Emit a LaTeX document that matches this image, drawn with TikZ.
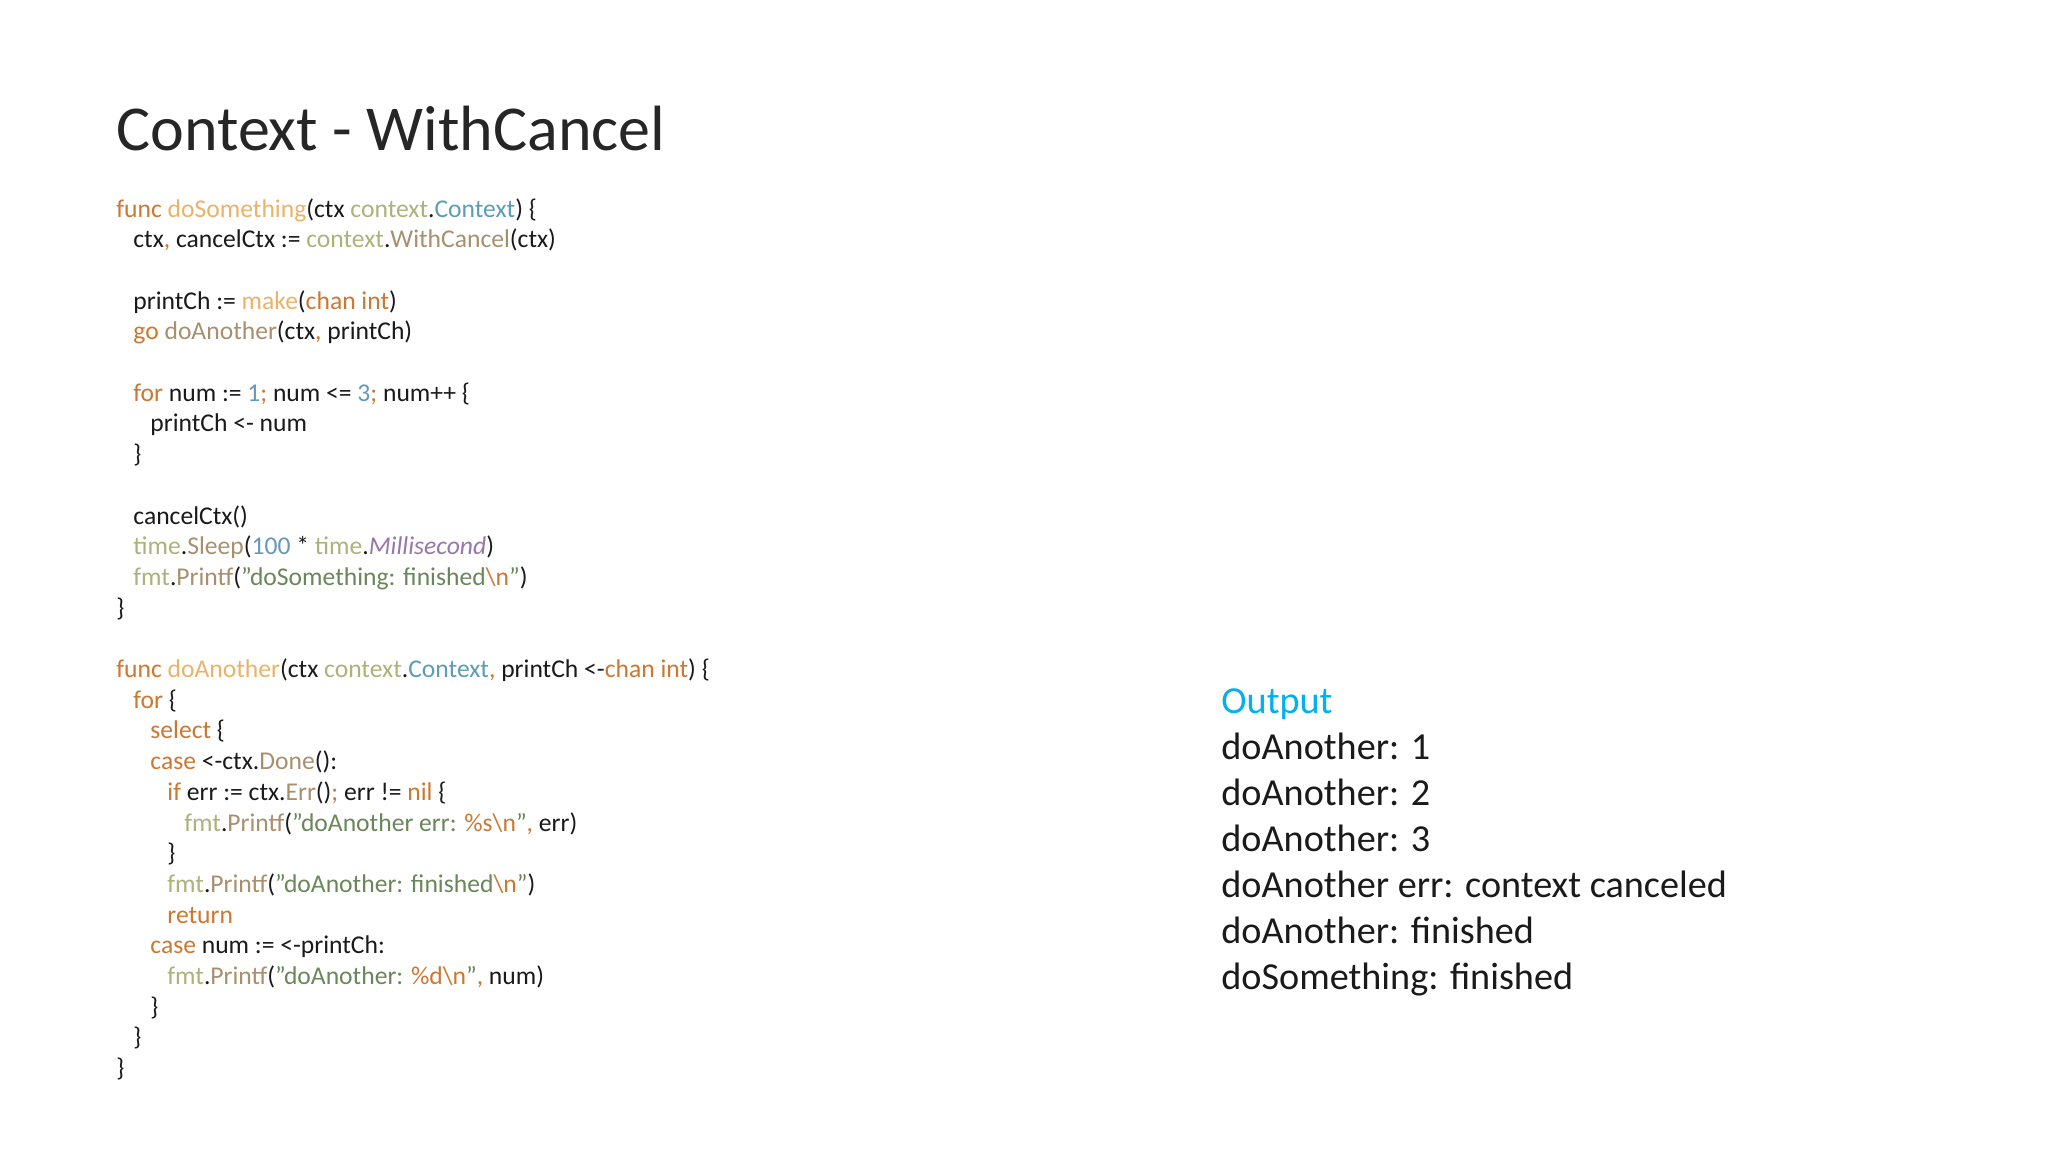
\documentclass[tikz,border=0pt]{standalone}
\usepackage{fontspec}
\setmainfont{Carlito}[Ligatures=ResetAll]
\definecolor{kwc}{HTML}{CC7832}
\definecolor{fnc}{HTML}{EBB369}
\definecolor{pkc}{HTML}{ADB27A}
\definecolor{tyc}{HTML}{5C9DB3}
\definecolor{numc}{HTML}{6897BB}
\definecolor{strc}{HTML}{6A8759}
\definecolor{methc}{HTML}{A8906E}
\definecolor{constc}{HTML}{9876AA}
\definecolor{outc}{HTML}{00B0F0}
\definecolor{txtc}{HTML}{1A1A1A}
\definecolor{titc}{HTML}{262626}
\newcommand\ckw[1]{\textcolor{kwc}{#1}}
\newcommand\cfn[1]{\textcolor{fnc}{#1}}
\newcommand\cpk[1]{\textcolor{pkc}{#1}}
\newcommand\cty[1]{\textcolor{tyc}{#1}}
\newcommand\cnum[1]{\textcolor{numc}{#1}}
\newcommand\cstr[1]{\textcolor{strc}{#1}}
\newcommand\cmeth[1]{\textcolor{methc}{#1}}
\newcommand\cconst[1]{\textcolor{constc}{\itshape #1}}
\begin{document}
\begin{tikzpicture}[x=1pt,y=-1pt,
  code/.style={anchor=base west,inner sep=0pt,font=\fontsize{12.8}{15}\selectfont,text=txtc},
  outl/.style={anchor=base west,inner sep=0pt,font=\fontsize{19.1}{23}\selectfont,text=txtc}]
\useasboundingbox[fill=white] (0,0) rectangle (1024,576);
\node[anchor=base west,inner sep=0pt,font=\fontsize{32}{38}\selectfont,text=titc] (title) at (58,75) {Context - WithCancel};
\def\L#1#2#3{\node[code] (l#1) at ({58+8.5*#2},{108.5+15.35*#1}) {#3};}
\L{0}{0}{\ckw{func} \cfn{doSomething}(ctx \cpk{context}.\cty{Context}) \{}
\L{1}{1}{ctx\ckw{,} cancelCtx := \cpk{context}.\cmeth{WithCancel}(ctx)}
\L{3}{1}{printCh := \cfn{make}(\ckw{chan int})}
\L{4}{1}{\ckw{go} \cmeth{doAnother}(ctx\ckw{,} printCh)}
\L{6}{1}{\ckw{for} num := \cnum{1}\ckw{;} num <= \cnum{3}\ckw{;} num++ \{}
\L{7}{2}{printCh <- num}
\L{8}{1}{\}}
\L{10}{1}{cancelCtx()}
\L{11}{1}{\cpk{time}.\cmeth{Sleep}(\cnum{100} * \cpk{time}.\cconst{Millisecond})}
\L{12}{1}{\cpk{fmt}.\cmeth{Printf}(\cstr{"doSomething: finished}\ckw{\textbackslash n}\cstr{"})}
\L{13}{0}{\}}
\L{15}{0}{\ckw{func} \cfn{doAnother}(ctx \cpk{context}.\cty{Context}\ckw{,} printCh <-\ckw{chan int}) \{}
\L{16}{1}{\ckw{for} \{}
\L{17}{2}{\ckw{select} \{}
\L{18}{2}{\ckw{case} <-ctx.\cmeth{Done}():}
\L{19}{3}{\ckw{if} err := ctx.\cmeth{Err}()\ckw{;} err != \ckw{nil} \{}
\L{20}{4}{\cpk{fmt}.\cmeth{Printf}(\cstr{"doAnother err: }\ckw{\%s\textbackslash n}\cstr{"}\ckw{,} err)}
\L{21}{3}{\}}
\L{22}{3}{\cpk{fmt}.\cmeth{Printf}(\cstr{"doAnother: finished}\ckw{\textbackslash n}\cstr{"})}
\L{23}{3}{\ckw{return}}
\L{24}{2}{\ckw{case} num := <-printCh:}
\L{25}{3}{\cpk{fmt}.\cmeth{Printf}(\cstr{"doAnother: }\ckw{\%d\textbackslash n}\cstr{"}\ckw{,} num)}
\L{26}{2}{\}}
\L{27}{1}{\}}
\L{28}{0}{\}}
\node[outl,text=outc] (o0) at (610.5,356.5) {Output};
\node[outl] (o1) at (610.5,379.5) {doAnother: 1};
\node[outl] (o2) at (610.5,402.5) {doAnother: 2};
\node[outl] (o3) at (610.5,425.5) {doAnother: 3};
\node[outl] (o4) at (610.5,448.5) {doAnother err: context canceled};
\node[outl] (o5) at (610.5,471.5) {doAnother: finished};
\node[outl] (o6) at (610.5,494.5) {doSomething: finished};
\end{tikzpicture}
\end{document}
